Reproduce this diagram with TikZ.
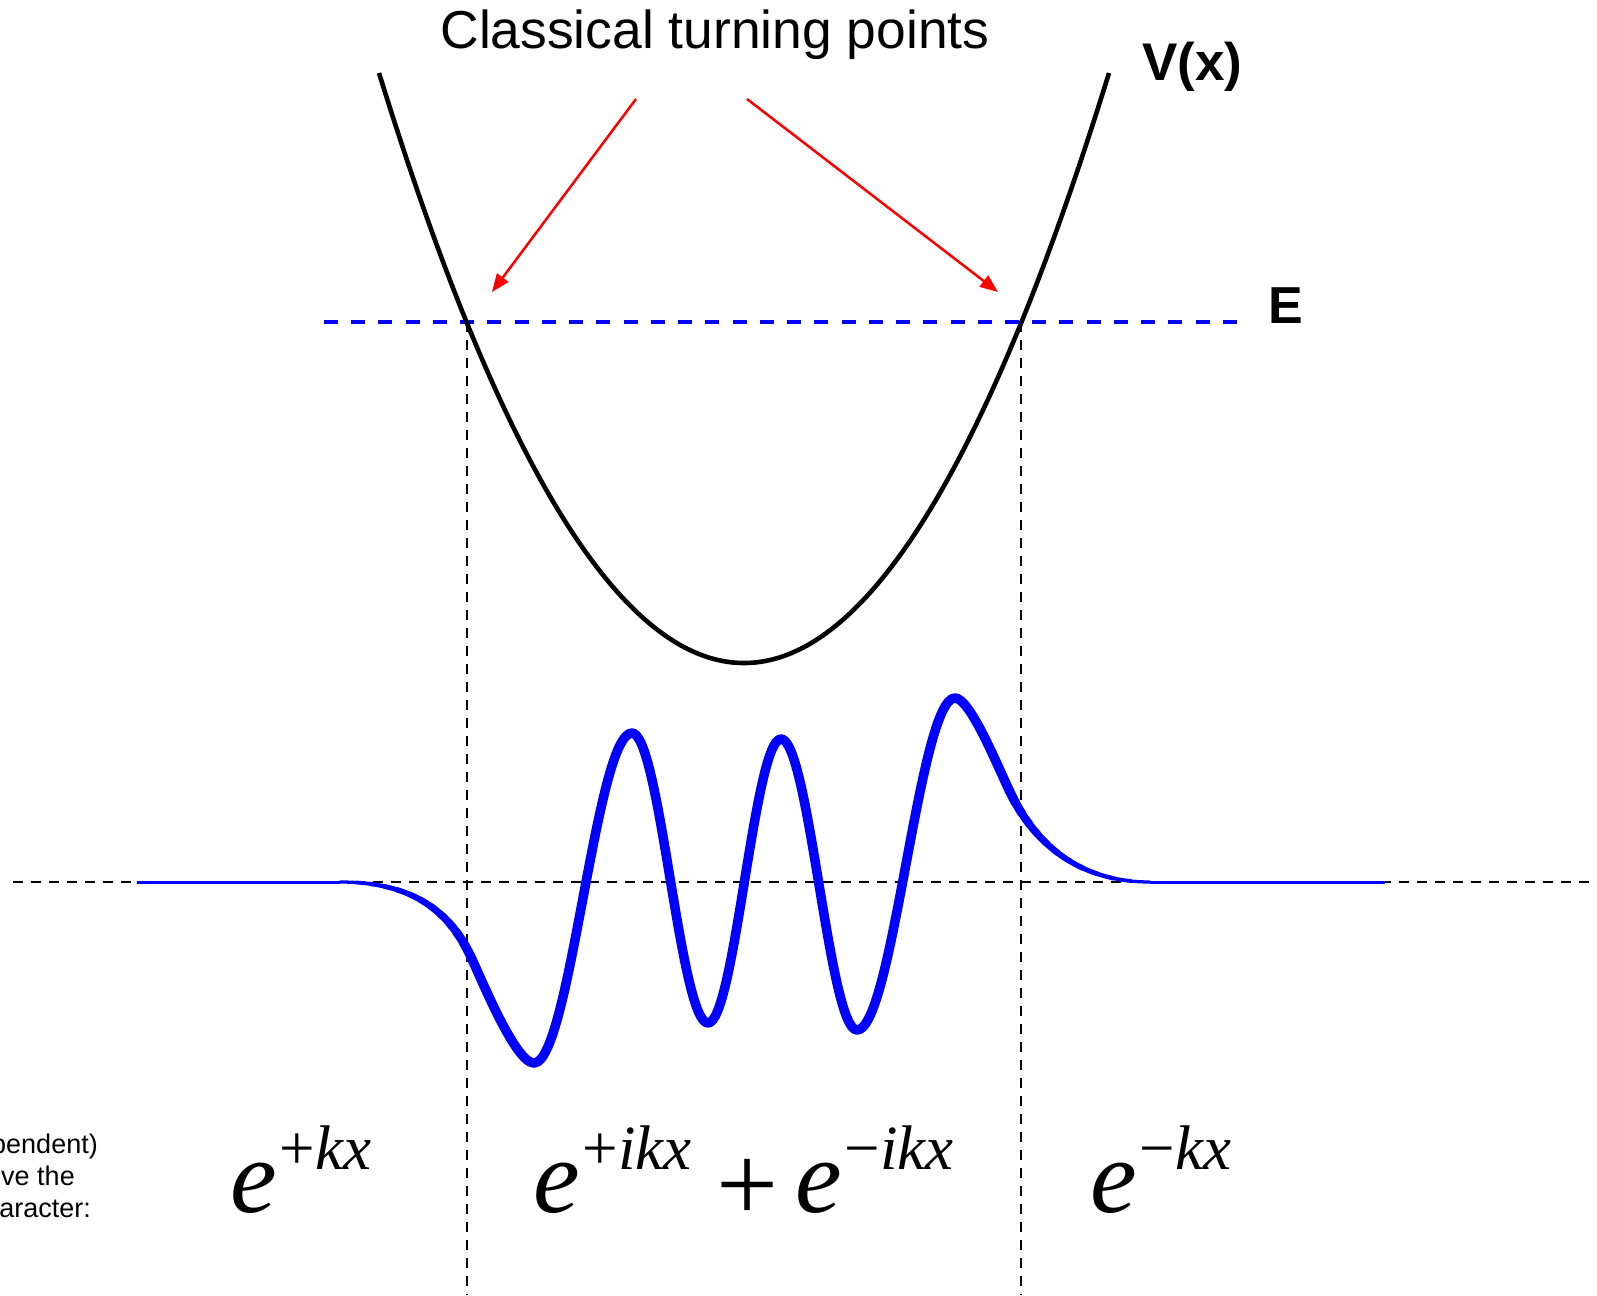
\documentclass[tikz,border=0pt]{standalone}
\usepackage{fontspec}
\setmainfont{Liberation Sans}
\newfontfamily\eqfont{Liberation Serif}
\usepackage{tikz}
\usetikzlibrary{arrows.meta}
\colorlet{psiblue}{blue}
\colorlet{levelblue}{blue}
\colorlet{turnred}{red}
\tikzset{
  axisline/.style={black,line width=2.2pt,dash pattern=on 10pt off 8pt},
  levelline/.style={levelblue,line width=3.5pt,dash pattern=on 14pt off 13.24pt},
  potential/.style={black,line width=4.6pt},
  pointer/.style={turnred,line width=2.5pt,-{Triangle[length=18pt,width=14pt]}},
  psi/.style={psiblue,line width=9.5pt,line join=round},
  psitail/.style={psiblue,line width=3pt},
  term/.style={inner sep=0pt,anchor=base west,font=\eqfont\itshape\fontsize{105}{105}\selectfont},
  sidenote/.style={inner sep=0pt,anchor=base east,font=\fontsize{27}{32}\selectfont}
}
% e with a raised exponent, e.g. \wkb{+}{ikx}
\newcommand{\wkb}[2]{e\raisebox{43pt}{\fontsize{63}{63}\selectfont\hspace{3pt}{\upshape #1}#2}}
% a Bezier piece of the wave whose width goes from #1 to #2
\newcommand{\psiramp}[6]{%
  \foreach \i in {0,...,11}{
    \pgfmathsetmacro\ta{\i/12}
    \pgfmathsetmacro\tb{(\i+1)/12}
    \pgfmathsetmacro\lw{#1+(#2-#1)*(\i+0.5)/12}
    \begin{pgfscope}
      \pgfsetlinewidth{\lw pt}\pgfsetroundcap\pgfsetstrokecolor{psiblue}
      \pgfpathcurvebetweentime{\ta}{\tb}{\pgfpointxy#3}{\pgfpointxy#4}{\pgfpointxy#5}{\pgfpointxy#6}
      \pgfusepath{stroke}
    \end{pgfscope}}}

\begin{document}
\begin{tikzpicture}[x=1pt,y=-1pt]
\useasboundingbox (0,0) rectangle (1597,1295);
\clip (0,0) rectangle (1597,1295);
% axis, energy level and turning point lines
\coordinate (axL) at (13,882); \coordinate (axR) at (1597,882);
\coordinate (lvL) at (324,322); \coordinate (lvR) at (1237,322);
\coordinate (tpL) at (467,322); \coordinate (tpLb) at (467,1295);
\coordinate (tpR) at (1021,322); \coordinate (tpRb) at (1021,1295);
\draw[axisline] (axL) -- (axR);
\draw[axisline] (tpL) -- (tpLb);
\draw[axisline] (tpR) -- (tpRb);
\draw[levelline] (lvL) -- (lvR);
% potential well
\coordinate (vTopL) at (379,73); \coordinate (vTopR) at (1109,73);
\draw[potential] (vTopL) .. controls (622.3,859.7) and (865.7,859.7) .. (vTopR);
% wavefunction: thin tails, thick between the turning points
\coordinate (psiA) at (137,882); \coordinate (psiB) at (340,882);
\coordinate (psiY) at (1150,882); \coordinate (psiZ) at (1385,882);
\draw[psitail] (psiA) -- (psiB);
\psiramp{3}{9.5}{{340}{882}}{{405}{882}}{{446}{905}}{{470}{955}}
\draw[psi] (470,955) .. controls (480,975.5) and (515,1063) .. (534,1063)
  .. controls (569.7,1063) and (596.3,733) .. (632,733)
  .. controls (659.7,733) and (680.3,1023) .. (708,1023)
  .. controls (734.6,1023) and (754.4,739) .. (781,739)
  .. controls (808.7,739) and (829.3,1030) .. (857,1030)
  .. controls (892.7,1030) and (919.3,698) .. (955,698)
  .. controls (970,698) and (997,765) .. (1010,792);
\psiramp{9.5}{3}{{1010}{792}}{{1030}{834}}{{1070}{882}}{{1150}{882}}
\draw[psitail] (psiY) -- (psiZ);
% labels
\node[anchor=base,inner sep=0pt,font=\fontsize{53.4}{64}\selectfont] (title) at (715,49) {Classical turning points};
\node[anchor=base west,inner sep=0pt,font=\bfseries\fontsize{53}{60}\selectfont] (vlabel) at (1142,81) {V(x)};
\node[anchor=base west,inner sep=0pt,font=\bfseries\fontsize{52}{60}\selectfont] (elabel) at (1268,323) {E};
\coordinate (fromL) at (636,99); \coordinate (aimL) at (492,292);
\coordinate (fromR) at (747,99); \coordinate (aimR) at (998,292);
\draw[pointer] (fromL) -- (aimL);
\draw[pointer] (fromR) -- (aimR);
% character of the solution in each region
\node[term] (growL) at (230,1212) {\wkb{+}{kx}};
\node[term] (oscP) at (533,1212) {\wkb{+}{ikx}};
\node[inner sep=0pt,font=\eqfont\fontsize{110}{110}\selectfont] (plus) at (748,1190) {+};
\node[term] (oscM) at (795,1212) {\wkb{−}{ikx}};
\node[term] (decayR) at (1090,1212) {\wkb{−}{kx}};
\node[sidenote] (noteA) at (98,1153) {pendent)};
\node[sidenote] (noteB) at (75,1185) {ve the};
\node[sidenote] (noteC) at (91,1217) {aracter:};
\end{tikzpicture}
\end{document}
